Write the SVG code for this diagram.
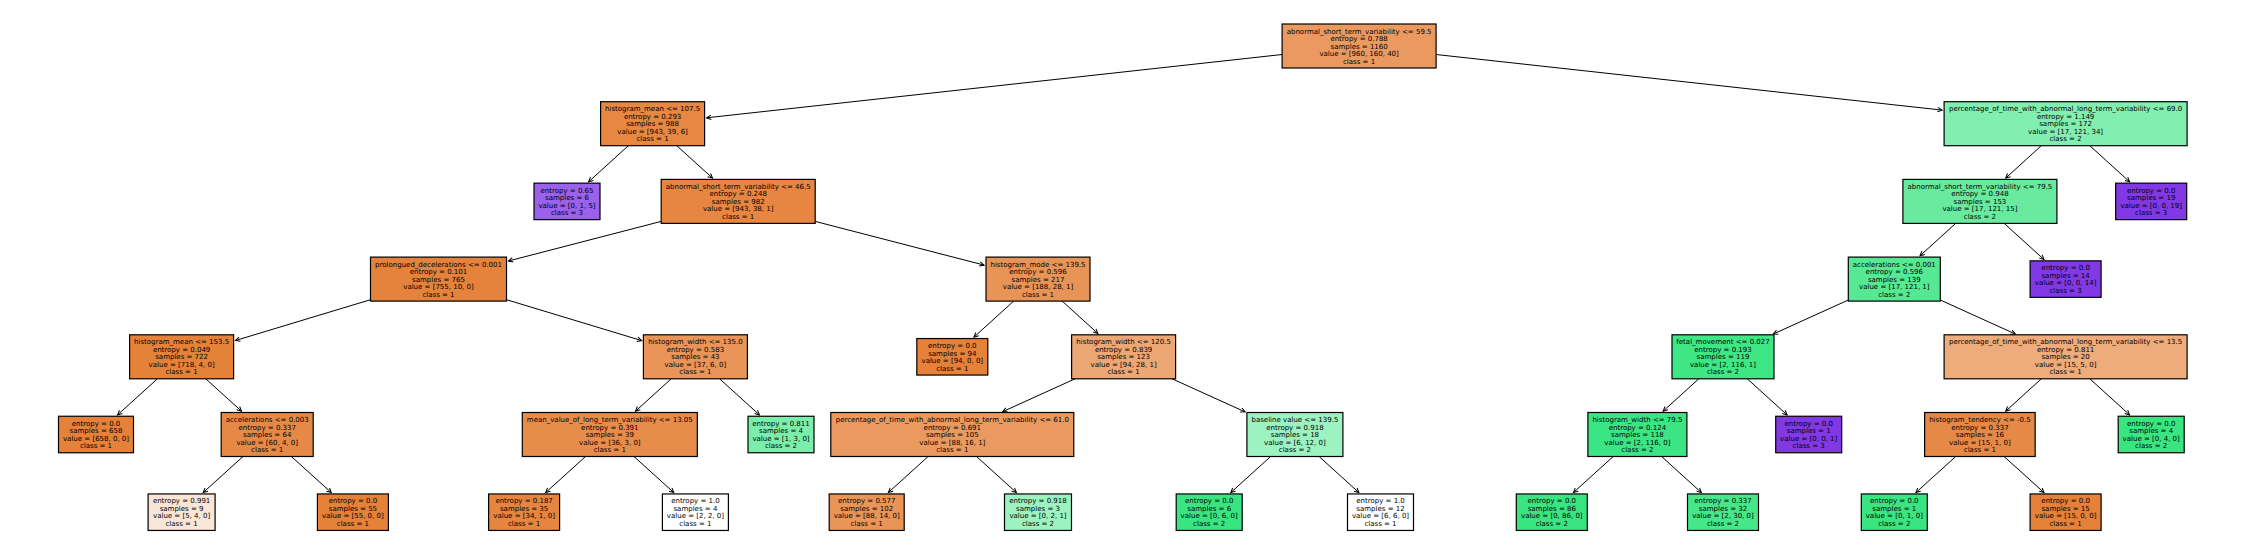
<svg xmlns="http://www.w3.org/2000/svg" width="2246" height="558" viewBox="0 0 2246 558">
<style>
.b{stroke:#000;stroke-width:1.2}
.t{font-family:"DejaVu Sans","Liberation Sans",sans-serif;font-size:7px;text-anchor:middle;fill:#000}
.e{stroke:#000;stroke-width:1;fill:none;marker-end:url(#ah)}
</style>
<defs>
<marker id="ah" viewBox="-6 -4 8 8" refX="0" refY="0" markerWidth="8" markerHeight="8" markerUnits="userSpaceOnUse" orient="auto">
<path d="M-4.5,-2.2 L0,0 L-4.5,2.2" fill="none" stroke="#000" stroke-width="1"/>
</marker>
</defs>
<rect width="2246" height="558" fill="#fff"/>
<g id="edges">
<path class="e" d="M1282.1,54.5 L706.6,117.8"/>
<path class="e" d="M1436.1,54.5 L1942.1,110.1"/>
<path class="e" d="M628.4,145.7 L588.6,181.8"/>
<path class="e" d="M676.8,145.7 L712.5,178.1"/>
<path class="e" d="M2041.3,145.7 L2005.7,178.1"/>
<path class="e" d="M2089.8,145.7 L2129.6,181.8"/>
<path class="e" d="M661.2,221.4 L508.4,261.0"/>
<path class="e" d="M815.2,221.4 L984.1,265.1"/>
<path class="e" d="M1955.7,223.4 L1920.0,255.8"/>
<path class="e" d="M2004.2,223.4 L2044.0,259.5"/>
<path class="e" d="M370.5,299.7 L235.5,340.5"/>
<path class="e" d="M506.5,299.7 L641.7,340.6"/>
<path class="e" d="M1013.7,301.1 L973.9,337.2"/>
<path class="e" d="M1062.2,301.1 L1097.9,333.5"/>
<path class="e" d="M1848.3,300.0 L1773.3,334.0"/>
<path class="e" d="M1940.3,300.0 L2015.3,334.0"/>
<path class="e" d="M157.4,378.8 L117.6,414.9"/>
<path class="e" d="M205.8,378.8 L241.5,411.2"/>
<path class="e" d="M671.2,378.8 L635.5,411.2"/>
<path class="e" d="M719.6,378.8 L759.4,414.9"/>
<path class="e" d="M1075.1,378.8 L1002.6,411.7"/>
<path class="e" d="M1172.1,378.8 L1245.1,411.9"/>
<path class="e" d="M1698.8,378.8 L1663.1,411.2"/>
<path class="e" d="M1747.3,378.8 L1787.1,414.9"/>
<path class="e" d="M2041.3,378.8 L2005.7,411.2"/>
<path class="e" d="M2089.8,378.8 L2129.6,414.9"/>
<path class="e" d="M243.0,456.5 L203.2,492.6"/>
<path class="e" d="M291.4,456.5 L331.3,492.6"/>
<path class="e" d="M585.5,456.5 L545.7,492.6"/>
<path class="e" d="M634.0,456.5 L673.8,492.6"/>
<path class="e" d="M928.1,456.5 L888.3,492.6"/>
<path class="e" d="M976.5,456.5 L1016.4,492.6"/>
<path class="e" d="M1270.6,456.5 L1230.8,492.6"/>
<path class="e" d="M1319.1,456.5 L1358.9,492.6"/>
<path class="e" d="M1613.2,456.5 L1573.4,492.6"/>
<path class="e" d="M1661.6,456.5 L1701.4,492.6"/>
<path class="e" d="M1955.7,456.5 L1915.9,492.6"/>
<path class="e" d="M2004.1,456.5 L2044.0,492.6"/>
</g>
<g id="n0" transform="translate(1359.1,46)"><rect class="b" x="-77" y="-22" width="154" height="44" fill="#ea9a61"/><text class="t"><tspan x="0" y="-12.5">abnormal_short_term_variability &lt;= 59.5</tspan><tspan x="0" y="-5">entropy = 0.788</tspan><tspan x="0" y="2.5">samples = 1160</tspan><tspan x="0" y="10">value = [960, 160, 40]</tspan><tspan x="0" y="17.5">class = 1</tspan></text></g>
<g id="n1" transform="translate(652.6,123.7)"><rect class="b" x="-52" y="-22" width="104" height="44" fill="#e68742"/><text class="t"><tspan x="0" y="-12.5">histogram_mean &lt;= 107.5</tspan><tspan x="0" y="-5">entropy = 0.293</tspan><tspan x="0" y="2.5">samples = 988</tspan><tspan x="0" y="10">value = [943, 39, 6]</tspan><tspan x="0" y="17.5">class = 1</tspan></text></g>
<g id="n2" transform="translate(567,201.4)"><rect class="b" x="-33" y="-18.25" width="66" height="36.5" fill="#9a61ea"/><text class="t"><tspan x="0" y="-8.75">entropy = 0.65</tspan><tspan x="0" y="-1.25">samples = 6</tspan><tspan x="0" y="6.25">value = [0, 1, 5]</tspan><tspan x="0" y="13.75">class = 3</tspan></text></g>
<g id="n3" transform="translate(738.2,201.4)"><rect class="b" x="-77" y="-22" width="154" height="44" fill="#e68641"/><text class="t"><tspan x="0" y="-12.5">abnormal_short_term_variability &lt;= 46.5</tspan><tspan x="0" y="-5">entropy = 0.248</tspan><tspan x="0" y="2.5">samples = 982</tspan><tspan x="0" y="10">value = [943, 38, 1]</tspan><tspan x="0" y="17.5">class = 1</tspan></text></g>
<g id="n4" transform="translate(438.5,279.1)"><rect class="b" x="-68" y="-22" width="136" height="44" fill="#e5833c"/><text class="t"><tspan x="0" y="-12.5">prolongued_decelerations &lt;= 0.001</tspan><tspan x="0" y="-5">entropy = 0.101</tspan><tspan x="0" y="2.5">samples = 765</tspan><tspan x="0" y="10">value = [755, 10, 0]</tspan><tspan x="0" y="17.5">class = 1</tspan></text></g>
<g id="n5" transform="translate(181.6,356.8)"><rect class="b" x="-52" y="-22" width="104" height="44" fill="#e5823a"/><text class="t"><tspan x="0" y="-12.5">histogram_mean &lt;= 153.5</tspan><tspan x="0" y="-5">entropy = 0.049</tspan><tspan x="0" y="2.5">samples = 722</tspan><tspan x="0" y="10">value = [718, 4, 0]</tspan><tspan x="0" y="17.5">class = 1</tspan></text></g>
<g id="n6" transform="translate(96,434.5)"><rect class="b" x="-37.5" y="-18.25" width="75" height="36.5" fill="#e58139"/><text class="t"><tspan x="0" y="-8.75">entropy = 0.0</tspan><tspan x="0" y="-1.25">samples = 658</tspan><tspan x="0" y="6.25">value = [658, 0, 0]</tspan><tspan x="0" y="13.75">class = 1</tspan></text></g>
<g id="n7" transform="translate(267.2,434.5)"><rect class="b" x="-46" y="-22" width="92" height="44" fill="#e78946"/><text class="t"><tspan x="0" y="-12.5">accelerations &lt;= 0.003</tspan><tspan x="0" y="-5">entropy = 0.337</tspan><tspan x="0" y="2.5">samples = 64</tspan><tspan x="0" y="10">value = [60, 4, 0]</tspan><tspan x="0" y="17.5">class = 1</tspan></text></g>
<g id="n8" transform="translate(181.6,512.2)"><rect class="b" x="-33.5" y="-18.25" width="67" height="36.5" fill="#fae6d7"/><text class="t"><tspan x="0" y="-8.75">entropy = 0.991</tspan><tspan x="0" y="-1.25">samples = 9</tspan><tspan x="0" y="6.25">value = [5, 4, 0]</tspan><tspan x="0" y="13.75">class = 1</tspan></text></g>
<g id="n9" transform="translate(352.9,512.2)"><rect class="b" x="-35.5" y="-18.25" width="71" height="36.5" fill="#e58139"/><text class="t"><tspan x="0" y="-8.75">entropy = 0.0</tspan><tspan x="0" y="-1.25">samples = 55</tspan><tspan x="0" y="6.25">value = [55, 0, 0]</tspan><tspan x="0" y="13.75">class = 1</tspan></text></g>
<g id="n10" transform="translate(695.4,356.8)"><rect class="b" x="-52" y="-22" width="104" height="44" fill="#e99559"/><text class="t"><tspan x="0" y="-12.5">histogram_width &lt;= 135.0</tspan><tspan x="0" y="-5">entropy = 0.583</tspan><tspan x="0" y="2.5">samples = 43</tspan><tspan x="0" y="10">value = [37, 6, 0]</tspan><tspan x="0" y="17.5">class = 1</tspan></text></g>
<g id="n11" transform="translate(609.8,434.5)"><rect class="b" x="-87.5" y="-22" width="175" height="44" fill="#e78c4a"/><text class="t"><tspan x="0" y="-12.5">mean_value_of_long_term_variability &lt;= 13.05</tspan><tspan x="0" y="-5">entropy = 0.391</tspan><tspan x="0" y="2.5">samples = 39</tspan><tspan x="0" y="10">value = [36, 3, 0]</tspan><tspan x="0" y="17.5">class = 1</tspan></text></g>
<g id="n12" transform="translate(524.1,512.2)"><rect class="b" x="-35.5" y="-18.25" width="71" height="36.5" fill="#e6853f"/><text class="t"><tspan x="0" y="-8.75">entropy = 0.187</tspan><tspan x="0" y="-1.25">samples = 35</tspan><tspan x="0" y="6.25">value = [34, 1, 0]</tspan><tspan x="0" y="13.75">class = 1</tspan></text></g>
<g id="n13" transform="translate(695.4,512.2)"><rect class="b" x="-33" y="-18.25" width="66" height="36.5" fill="#ffffff"/><text class="t"><tspan x="0" y="-8.75">entropy = 1.0</tspan><tspan x="0" y="-1.25">samples = 4</tspan><tspan x="0" y="6.25">value = [2, 2, 0]</tspan><tspan x="0" y="13.75">class = 1</tspan></text></g>
<g id="n14" transform="translate(781,434.5)"><rect class="b" x="-33" y="-18.25" width="66" height="36.5" fill="#7beeab"/><text class="t"><tspan x="0" y="-8.75">entropy = 0.811</tspan><tspan x="0" y="-1.25">samples = 4</tspan><tspan x="0" y="6.25">value = [1, 3, 0]</tspan><tspan x="0" y="13.75">class = 2</tspan></text></g>
<g id="n15" transform="translate(1038,279.1)"><rect class="b" x="-52" y="-22" width="104" height="44" fill="#e99457"/><text class="t"><tspan x="0" y="-12.5">histogram_mode &lt;= 139.5</tspan><tspan x="0" y="-5">entropy = 0.596</tspan><tspan x="0" y="2.5">samples = 217</tspan><tspan x="0" y="10">value = [188, 28, 1]</tspan><tspan x="0" y="17.5">class = 1</tspan></text></g>
<g id="n16" transform="translate(952.3,356.8)"><rect class="b" x="-35.5" y="-18.25" width="71" height="36.5" fill="#e58139"/><text class="t"><tspan x="0" y="-8.75">entropy = 0.0</tspan><tspan x="0" y="-1.25">samples = 94</tspan><tspan x="0" y="6.25">value = [94, 0, 0]</tspan><tspan x="0" y="13.75">class = 1</tspan></text></g>
<g id="n17" transform="translate(1123.6,356.8)"><rect class="b" x="-52" y="-22" width="104" height="44" fill="#eda775"/><text class="t"><tspan x="0" y="-12.5">histogram_width &lt;= 120.5</tspan><tspan x="0" y="-5">entropy = 0.839</tspan><tspan x="0" y="2.5">samples = 123</tspan><tspan x="0" y="10">value = [94, 28, 1]</tspan><tspan x="0" y="17.5">class = 1</tspan></text></g>
<g id="n18" transform="translate(952.3,434.5)"><rect class="b" x="-121.5" y="-22" width="243" height="44" fill="#ea995f"/><text class="t"><tspan x="0" y="-12.5">percentage_of_time_with_abnormal_long_term_variability &lt;= 61.0</tspan><tspan x="0" y="-5">entropy = 0.691</tspan><tspan x="0" y="2.5">samples = 105</tspan><tspan x="0" y="10">value = [88, 16, 1]</tspan><tspan x="0" y="17.5">class = 1</tspan></text></g>
<g id="n19" transform="translate(866.7,512.2)"><rect class="b" x="-37.5" y="-18.25" width="75" height="36.5" fill="#e99558"/><text class="t"><tspan x="0" y="-8.75">entropy = 0.577</tspan><tspan x="0" y="-1.25">samples = 102</tspan><tspan x="0" y="6.25">value = [88, 14, 0]</tspan><tspan x="0" y="13.75">class = 1</tspan></text></g>
<g id="n20" transform="translate(1038,512.2)"><rect class="b" x="-33.5" y="-18.25" width="67" height="36.5" fill="#9cf2c0"/><text class="t"><tspan x="0" y="-8.75">entropy = 0.918</tspan><tspan x="0" y="-1.25">samples = 3</tspan><tspan x="0" y="6.25">value = [0, 2, 1]</tspan><tspan x="0" y="13.75">class = 2</tspan></text></g>
<g id="n21" transform="translate(1294.9,434.5)"><rect class="b" x="-48" y="-22" width="96" height="44" fill="#9cf2c0"/><text class="t"><tspan x="0" y="-12.5">baseline value &lt;= 139.5</tspan><tspan x="0" y="-5">entropy = 0.918</tspan><tspan x="0" y="2.5">samples = 18</tspan><tspan x="0" y="10">value = [6, 12, 0]</tspan><tspan x="0" y="17.5">class = 2</tspan></text></g>
<g id="n22" transform="translate(1209.2,512.2)"><rect class="b" x="-33" y="-18.25" width="66" height="36.5" fill="#39e581"/><text class="t"><tspan x="0" y="-8.75">entropy = 0.0</tspan><tspan x="0" y="-1.25">samples = 6</tspan><tspan x="0" y="6.25">value = [0, 6, 0]</tspan><tspan x="0" y="13.75">class = 2</tspan></text></g>
<g id="n23" transform="translate(1380.5,512.2)"><rect class="b" x="-33" y="-18.25" width="66" height="36.5" fill="#ffffff"/><text class="t"><tspan x="0" y="-8.75">entropy = 1.0</tspan><tspan x="0" y="-1.25">samples = 12</tspan><tspan x="0" y="6.25">value = [6, 6, 0]</tspan><tspan x="0" y="13.75">class = 1</tspan></text></g>
<g id="n24" transform="translate(2065.6,123.7)"><rect class="b" x="-121.5" y="-22" width="243" height="44" fill="#82efb0"/><text class="t"><tspan x="0" y="-12.5">percentage_of_time_with_abnormal_long_term_variability &lt;= 69.0</tspan><tspan x="0" y="-5">entropy = 1.149</tspan><tspan x="0" y="2.5">samples = 172</tspan><tspan x="0" y="10">value = [17, 121, 34]</tspan><tspan x="0" y="17.5">class = 2</tspan></text></g>
<g id="n25" transform="translate(1979.9,201.4)"><rect class="b" x="-77" y="-22" width="154" height="44" fill="#68eb9f"/><text class="t"><tspan x="0" y="-12.5">abnormal_short_term_variability &lt;= 79.5</tspan><tspan x="0" y="-5">entropy = 0.948</tspan><tspan x="0" y="2.5">samples = 153</tspan><tspan x="0" y="10">value = [17, 121, 15]</tspan><tspan x="0" y="17.5">class = 2</tspan></text></g>
<g id="n26" transform="translate(1894.3,279.1)"><rect class="b" x="-46" y="-22" width="92" height="44" fill="#56e994"/><text class="t"><tspan x="0" y="-12.5">accelerations &lt;= 0.001</tspan><tspan x="0" y="-5">entropy = 0.596</tspan><tspan x="0" y="2.5">samples = 139</tspan><tspan x="0" y="10">value = [17, 121, 1]</tspan><tspan x="0" y="17.5">class = 2</tspan></text></g>
<g id="n27" transform="translate(1723,356.8)"><rect class="b" x="-51" y="-22" width="102" height="44" fill="#3ee684"/><text class="t"><tspan x="0" y="-12.5">fetal_movement &lt;= 0.027</tspan><tspan x="0" y="-5">entropy = 0.193</tspan><tspan x="0" y="2.5">samples = 119</tspan><tspan x="0" y="10">value = [2, 116, 1]</tspan><tspan x="0" y="17.5">class = 2</tspan></text></g>
<g id="n28" transform="translate(1637.4,434.5)"><rect class="b" x="-49.5" y="-22" width="99" height="44" fill="#3ce583"/><text class="t"><tspan x="0" y="-12.5">histogram_width &lt;= 79.5</tspan><tspan x="0" y="-5">entropy = 0.124</tspan><tspan x="0" y="2.5">samples = 118</tspan><tspan x="0" y="10">value = [2, 116, 0]</tspan><tspan x="0" y="17.5">class = 2</tspan></text></g>
<g id="n29" transform="translate(1551.8,512.2)"><rect class="b" x="-35.5" y="-18.25" width="71" height="36.5" fill="#39e581"/><text class="t"><tspan x="0" y="-8.75">entropy = 0.0</tspan><tspan x="0" y="-1.25">samples = 86</tspan><tspan x="0" y="6.25">value = [0, 86, 0]</tspan><tspan x="0" y="13.75">class = 2</tspan></text></g>
<g id="n30" transform="translate(1723,512.2)"><rect class="b" x="-35.5" y="-18.25" width="71" height="36.5" fill="#46e789"/><text class="t"><tspan x="0" y="-8.75">entropy = 0.337</tspan><tspan x="0" y="-1.25">samples = 32</tspan><tspan x="0" y="6.25">value = [2, 30, 0]</tspan><tspan x="0" y="13.75">class = 2</tspan></text></g>
<g id="n31" transform="translate(1808.7,434.5)"><rect class="b" x="-33" y="-18.25" width="66" height="36.5" fill="#8139e5"/><text class="t"><tspan x="0" y="-8.75">entropy = 0.0</tspan><tspan x="0" y="-1.25">samples = 1</tspan><tspan x="0" y="6.25">value = [0, 0, 1]</tspan><tspan x="0" y="13.75">class = 3</tspan></text></g>
<g id="n32" transform="translate(2065.6,356.8)"><rect class="b" x="-121.5" y="-22" width="243" height="44" fill="#eeab7b"/><text class="t"><tspan x="0" y="-12.5">percentage_of_time_with_abnormal_long_term_variability &lt;= 13.5</tspan><tspan x="0" y="-5">entropy = 0.811</tspan><tspan x="0" y="2.5">samples = 20</tspan><tspan x="0" y="10">value = [15, 5, 0]</tspan><tspan x="0" y="17.5">class = 1</tspan></text></g>
<g id="n33" transform="translate(1979.9,434.5)"><rect class="b" x="-55.25" y="-22" width="110.5" height="44" fill="#e78946"/><text class="t"><tspan x="0" y="-12.5">histogram_tendency &lt;= -0.5</tspan><tspan x="0" y="-5">entropy = 0.337</tspan><tspan x="0" y="2.5">samples = 16</tspan><tspan x="0" y="10">value = [15, 1, 0]</tspan><tspan x="0" y="17.5">class = 1</tspan></text></g>
<g id="n34" transform="translate(1894.3,512.2)"><rect class="b" x="-33" y="-18.25" width="66" height="36.5" fill="#39e581"/><text class="t"><tspan x="0" y="-8.75">entropy = 0.0</tspan><tspan x="0" y="-1.25">samples = 1</tspan><tspan x="0" y="6.25">value = [0, 1, 0]</tspan><tspan x="0" y="13.75">class = 2</tspan></text></g>
<g id="n35" transform="translate(2065.6,512.2)"><rect class="b" x="-35.5" y="-18.25" width="71" height="36.5" fill="#e58139"/><text class="t"><tspan x="0" y="-8.75">entropy = 0.0</tspan><tspan x="0" y="-1.25">samples = 15</tspan><tspan x="0" y="6.25">value = [15, 0, 0]</tspan><tspan x="0" y="13.75">class = 1</tspan></text></g>
<g id="n36" transform="translate(2151.2,434.5)"><rect class="b" x="-33" y="-18.25" width="66" height="36.5" fill="#39e581"/><text class="t"><tspan x="0" y="-8.75">entropy = 0.0</tspan><tspan x="0" y="-1.25">samples = 4</tspan><tspan x="0" y="6.25">value = [0, 4, 0]</tspan><tspan x="0" y="13.75">class = 2</tspan></text></g>
<g id="n37" transform="translate(2065.6,279.1)"><rect class="b" x="-35.5" y="-18.25" width="71" height="36.5" fill="#8139e5"/><text class="t"><tspan x="0" y="-8.75">entropy = 0.0</tspan><tspan x="0" y="-1.25">samples = 14</tspan><tspan x="0" y="6.25">value = [0, 0, 14]</tspan><tspan x="0" y="13.75">class = 3</tspan></text></g>
<g id="n38" transform="translate(2151.2,201.4)"><rect class="b" x="-35.5" y="-18.25" width="71" height="36.5" fill="#8139e5"/><text class="t"><tspan x="0" y="-8.75">entropy = 0.0</tspan><tspan x="0" y="-1.25">samples = 19</tspan><tspan x="0" y="6.25">value = [0, 0, 19]</tspan><tspan x="0" y="13.75">class = 3</tspan></text></g>
</svg>
